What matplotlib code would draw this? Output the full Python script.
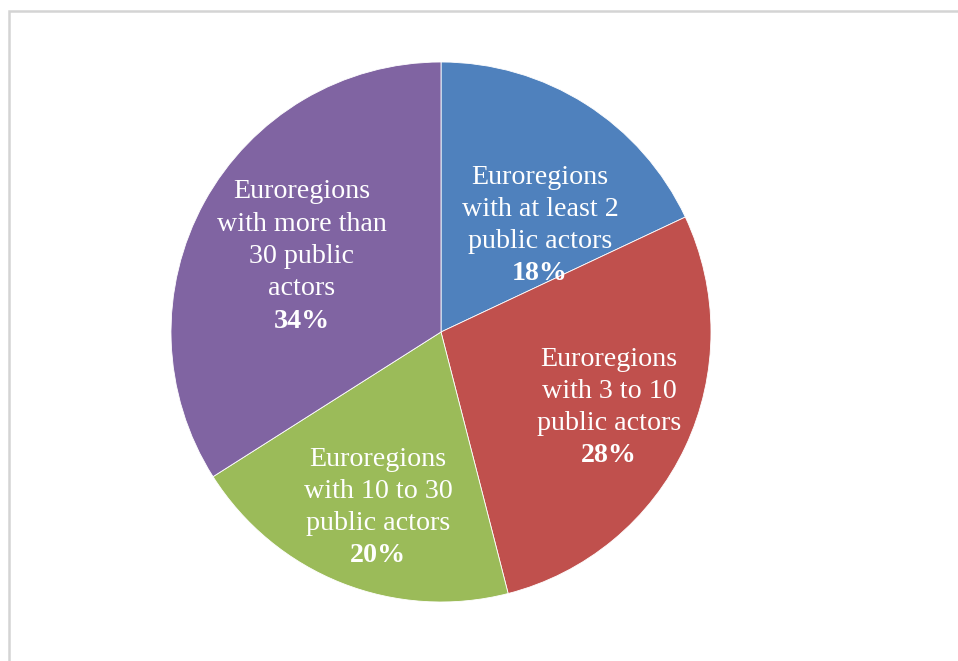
import matplotlib.pyplot as plt
from matplotlib.patches import Rectangle

labels = [
    "Euroregions\nwith at least 2\npublic actors",
    "Euroregions\nwith 3 to 10\npublic actors",
    "Euroregions\nwith 10 to 30\npublic actors",
    "Euroregions\nwith more than\n30 public\nactors",
]
shares = [18, 28, 20, 34]
colors = ["#4F81BD", "#C0504D", "#9BBB59", "#8064A2"]

# label anchor (centre x, y of first line) in pixel coords, top-down
label_pos = [(540, 177), (609, 359), (378, 459), (302, 192)]
line_pitch = 32.3

W, H = 958, 661
fig = plt.figure(figsize=(W / 100, H / 100), dpi=100)
ax = fig.add_axes([0, 0, 1, 1])

ax.pie(shares, colors=colors, startangle=90, counterclock=False,
       center=(441, H - 332), radius=270, frame=True,
       wedgeprops=dict(edgecolor="white", linewidth=0.6))
ax.set_xlim(0, W)
ax.set_ylim(0, H)
ax.set_aspect("equal")
ax.axis("off")

font = "Liberation Serif"
for lab, val, (x, y0) in zip(labels, shares, label_pos):
    lines = lab.split("\n")
    for i, ln in enumerate(lines):
        ax.text(x, H - (y0 + i * line_pitch), ln, ha="center", va="center",
                fontsize=20.2, family=font, color="white")
    ax.text(x, H - (y0 + len(lines) * line_pitch), f"{val}%", ha="center",
            va="center", fontsize=20.2, family=font, color="white", weight="bold")

# chart area border
ax.add_patch(Rectangle((9, -20), W + 20, H - 11 + 20, fill=False,
                       edgecolor="#d4d4d4", linewidth=1.8, clip_on=False))

fig.savefig("out.png", dpi=100)
